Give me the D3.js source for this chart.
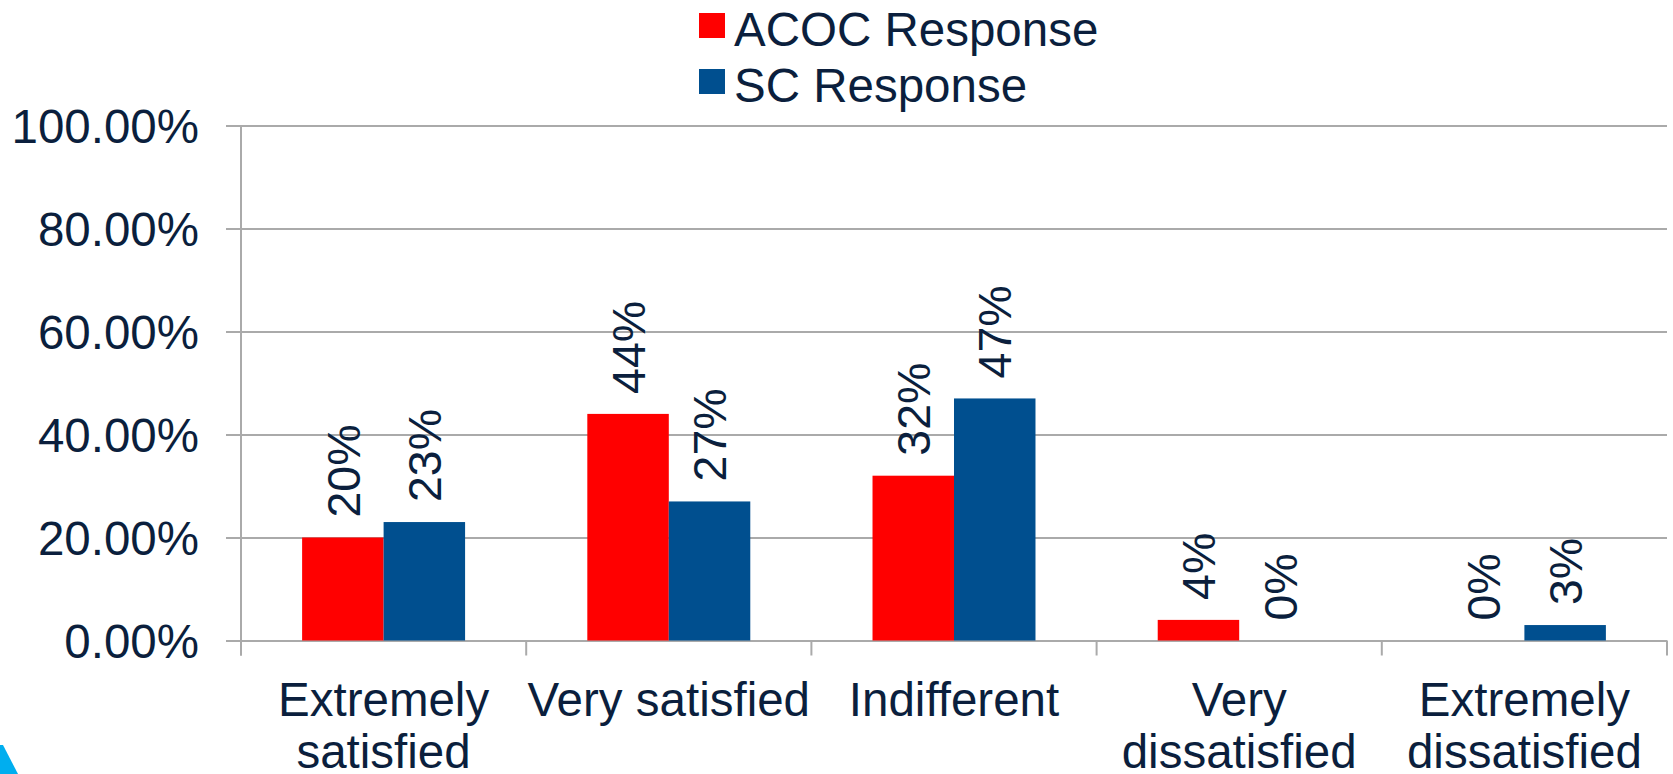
<!DOCTYPE html>
<html>
<head>
<meta charset="utf-8">
<script src="https://cdn.jsdelivr.net/npm/d3@7/dist/d3.min.js"></script>
<style>
  html, body { margin: 0; padding: 0; background: #ffffff; }
  svg { display: block; }
  text { font-family: "Liberation Sans", Arial, sans-serif; fill: #0b1f3d; }
</style>
</head>
<body>
<svg id="chart" width="1673" height="774"></svg>
<script>
// Satisfaction survey: ACOC vs SC responses (share of respondents, %)
const categories = [
  ["Extremely", "satisfied"],
  ["Very satisfied"],
  ["Indifferent"],
  ["Very", "dissatisfied"],
  ["Extremely", "dissatisfied"]
];
const seriesNames = ["ACOC Response", "SC Response"];
const acocValues = [20, 44, 32, 4, 0];
const scValues = [23, 27, 47, 0, 3];
const yTicks = [0, 20, 40, 60, 80, 100];
const seriesColors = ["#ff0000", "#004f8f"];

const svg = d3.select("#chart");
const plotLeft = 241, plotRight = 1667, plotTop = 125.5, plotBottom = 640.5;
const gridColor = "#aaaaaa";
const labelSize = 47.5;

const catKeys = categories.map(c => c.join(" "));
const x0 = d3.scaleBand().domain(catKeys).range([plotLeft, plotRight]).paddingInner(0).paddingOuter(0);
const x1 = d3.scaleBand().domain(seriesNames).range([0, x0.bandwidth()]).paddingInner(0).paddingOuter(0.75);
const y = d3.scaleLinear().domain([0, 100]).range([plotBottom, plotTop]);

// horizontal gridlines (extend a little left of the axis as tick marks)
const grid = svg.append("g")
  .attr("transform", `translate(${plotLeft - 15},0)`)
  .call(d3.axisRight(y).tickValues(yTicks).tickSize(plotRight - plotLeft + 15).tickFormat(""));
grid.select(".domain").remove();
grid.selectAll(".tick line").attr("stroke", gridColor).attr("stroke-width", 2);

// y labels
const yAxis = svg.append("g")
  .attr("transform", `translate(${plotLeft},0)`)
  .call(d3.axisLeft(y).tickValues(yTicks).tickSize(0).tickPadding(42)
    .tickFormat(d => d3.format(".2%")(d / 100)));
yAxis.select(".domain").remove();
yAxis.selectAll(".tick text")
  .attr("font-size", labelSize)
  .attr("font-family", "Liberation Sans, Arial, sans-serif")
  .attr("fill", "#0b1f3d")
  .attr("dy", "0.36em");

// vertical axis line
svg.append("line")
  .attr("x1", plotLeft).attr("x2", plotLeft)
  .attr("y1", plotTop).attr("y2", plotBottom + 15)
  .attr("stroke", gridColor).attr("stroke-width", 2);

// category tick marks at band boundaries
const boundaries = catKeys.map(k => x0(k)).concat([plotRight]);
svg.append("g").selectAll("line").data(boundaries).join("line")
  .attr("x1", d => d).attr("x2", d => d)
  .attr("y1", plotBottom).attr("y2", plotBottom + 15)
  .attr("stroke", gridColor).attr("stroke-width", 2);

// bars
const rows = catKeys.map((k, i) => ({
  key: k,
  values: [
    { name: seriesNames[0], v: acocValues[i] },
    { name: seriesNames[1], v: scValues[i] }
  ]
}));

const groups = svg.append("g").selectAll("g").data(rows).join("g")
  .attr("transform", d => `translate(${x0(d.key)},0)`);

groups.selectAll("rect").data(d => d.values).join("rect")
  .attr("x", d => x1(d.name))
  .attr("y", d => y(d.v))
  .attr("width", x1.bandwidth())
  .attr("height", d => y(0) - y(d.v))
  .attr("fill", (d, i) => seriesColors[i]);

// rotated value labels above each bar
groups.selectAll("text.val").data(d => d.values).join("text")
  .attr("class", "val")
  .attr("transform", d => `translate(${x1(d.name) + x1.bandwidth() / 2},${y(d.v) - 20}) rotate(-90)`)
  .attr("dy", "0.36em")
  .attr("text-anchor", "start")
  .attr("font-size", 46.5)
  .text(d => d.v + "%");

// category labels
const catLabels = svg.append("g").selectAll("text").data(categories).join("text")
  .attr("text-anchor", "middle")
  .attr("font-size", labelSize)
  .attr("x", (d, i) => x0(catKeys[i]) + x0.bandwidth() / 2)
  .attr("y", 716);
catLabels.selectAll("tspan").data(d => d).join("tspan")
  .attr("x", function() { return d3.select(this.parentNode).attr("x"); })
  .attr("dy", (d, i) => i === 0 ? 0 : 52)
  .text(d => d);

// legend
const legend = svg.append("g").selectAll("g").data(seriesNames).join("g")
  .attr("transform", (d, i) => `translate(699,${13 + i * 56})`);
legend.append("rect")
  .attr("width", 26).attr("height", 25)
  .attr("fill", (d, i) => seriesColors[i]);
legend.append("text")
  .attr("x", 35).attr("y", 33)
  .attr("font-size", labelSize)
  .text(d => d);

// slide corner accent
svg.append("path")
  .attr("d", "M0,745 L3,745 L18,774 L0,774 Z")
  .attr("fill", "#00aeef");
</script>
</body>
</html>
